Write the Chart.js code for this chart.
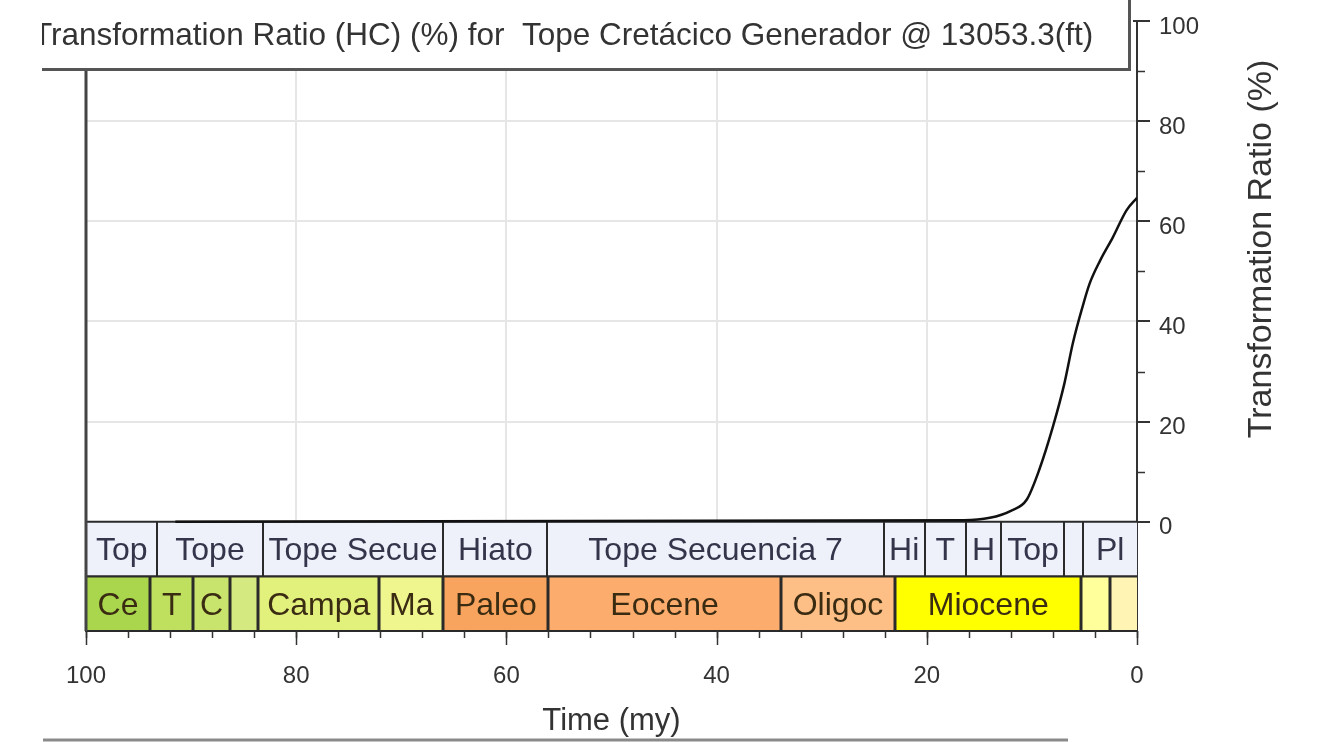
<!DOCTYPE html>
<html>
<head>
<meta charset="utf-8">
<script src="https://cdn.jsdelivr.net/npm/chart.js@4.4.1/dist/chart.umd.min.js"></script>
<style>
  html, body { margin: 0; padding: 0; background: #fff; }
  canvas { display: block; }
</style>
</head>
<body>
<canvas id="trChart" width="1327" height="742"></canvas>
<script>
// transformation ratio curve (time in my, ratio in %)
const curveTimes = [91.5, 16.5, 14.0, 12.0, 10.5, 9.3, 8.0, 6.9, 6.1, 5.2, 4.5, 3.5, 2.3, 1.0, 0];
const curveRatio = [0, 0.3, 0.8, 2.2, 4.4, 10.4, 19.0, 27.7, 35.7, 42.8, 47.6, 52.2, 56.8, 62.2, 64.7];

// sequence row (top band)
const seqEdges = [100, 93.2, 83.2, 66.0, 56.1, 24.1, 20.2, 16.3, 12.9, 6.9, 5.1, 0];
const seqLabels = ['Top', 'Tope', 'Tope Secue', 'Hiato', 'Tope Secuencia 7', 'Hi', 'T', 'H', 'Top', '', 'Pl'];

// epoch row (bottom band)
const epochEdges = [100, 93.9, 89.8, 86.3, 83.6, 72.1, 66.0, 56.0, 33.9, 23.0, 5.3, 2.6, 0];
const epochLabels = ['Ce', 'T', 'C', '', 'Campa', 'Ma', 'Paleo', 'Eocene', 'Oligoc', 'Miocene', '', ''];
const epochColors = ['#a9d64c', '#bfe05e', '#c9e46c', '#d4ea80', '#e2f07c', '#eff68e', '#f9a45e',
                     '#fcac6c', '#fdbf86', '#ffff00', '#ffff9c', '#fff4b4'];

const xTicks = [100, 80, 60, 40, 20, 0];
const yTicks = [0, 20, 40, 60, 80, 100];

const chartTitle = 'Transformation Ratio (HC) (%) for  Tope Cretácico Generador @ 13053.3(ft)';
const xTitle = 'Time (my)';
const yTitle = 'Transformation Ratio (%)';

const BAND = 10.9; // height of each band row in y units
const FONT = "'Liberation Sans', Arial, sans-serif";

const curvePoints = curveTimes.map((t, i) => ({ x: t, y: curveRatio[i] }));

const drawRow = (ctx, x, y, edges, labels, fills, top, bottom, lineW, textColor) => {
    const yt = y.getPixelForValue(top);
    const yb = y.getPixelForValue(bottom);
    ctx.font = `32px ${FONT}`;
    ctx.textAlign = 'center';
    ctx.textBaseline = 'middle';
    for (let i = 0; i < labels.length; i++) {
        const xl = x.getPixelForValue(edges[i]);
        const xr = x.getPixelForValue(edges[i + 1]);
        ctx.fillStyle = fills[i];
        ctx.fillRect(xl, yt, xr - xl, yb - yt);
        if (labels[i]) {
            ctx.fillStyle = textColor;
            ctx.fillText(labels[i], (xl + xr) / 2, (yt + yb) / 2 + 2);
        }
    }
    ctx.strokeStyle = '#2a2a2a';
    ctx.lineWidth = lineW;
    for (let i = 1; i < edges.length - 1; i++) {
        const xe = Math.round(x.getPixelForValue(edges[i]));
        ctx.beginPath();
        ctx.moveTo(xe, yt);
        ctx.lineTo(xe, yb);
        ctx.stroke();
    }
    ctx.lineWidth = 2;
    ctx.beginPath();
    ctx.moveTo(x.left, yt);
    ctx.lineTo(x.right, yt);
    ctx.moveTo(x.left, yb);
    ctx.lineTo(x.right, yb);
    ctx.stroke();
};

const bandsPlugin = {
    id: 'bands',
    beforeDatasetsDraw(chart) {
        const { ctx, scales: { x, y } } = chart;
        ctx.save();
        drawRow(ctx, x, y, seqEdges, seqLabels, seqLabels.map(() => '#eef0fa'), 0, -BAND, 2, '#34344a');
        drawRow(ctx, x, y, epochEdges, epochLabels, epochColors, -BAND, -2 * BAND, 3, '#3a2c12');
        ctx.restore();
    },
    afterDraw(chart) {
        const { ctx, chartArea, scales: { x, y } } = chart;
        ctx.save();
        ctx.strokeStyle = '#333';
        ctx.lineWidth = 1.5;

        // time axis ticks, minor every 4 my
        for (let t = 0; t <= 100; t += 4) {
            const px = Math.round(x.getPixelForValue(t)) + 0.5;
            ctx.beginPath();
            ctx.moveTo(px, chartArea.bottom);
            ctx.lineTo(px, chartArea.bottom + 7);
            ctx.stroke();
        }
        for (const t of xTicks) {
            const px = Math.round(x.getPixelForValue(t)) + 0.5;
            ctx.beginPath();
            ctx.moveTo(px, chartArea.bottom);
            ctx.lineTo(px, chartArea.bottom + 14);
            ctx.stroke();
        }

        // ratio axis ticks, minor every 10 %
        for (let v = 10; v < 100; v += 20) {
            const py = Math.round(y.getPixelForValue(v)) + 0.5;
            ctx.beginPath();
            ctx.moveTo(chartArea.right, py);
            ctx.lineTo(chartArea.right + 8, py);
            ctx.stroke();
        }
        ctx.lineWidth = 2;
        for (const v of yTicks) {
            const py = Math.round(y.getPixelForValue(v));
            ctx.beginPath();
            ctx.moveTo(chartArea.right - (v === 100 ? 4 : 0), py);
            ctx.lineTo(chartArea.right + 13, py);
            ctx.stroke();
        }

        // left frame line
        ctx.strokeStyle = '#444';
        ctx.lineWidth = 3;
        ctx.beginPath();
        ctx.moveTo(chartArea.left, 70);
        ctx.lineTo(chartArea.left, chartArea.bottom);
        ctx.stroke();

        // rotated axis title
        ctx.fillStyle = '#333';
        ctx.font = `34px ${FONT}`;
        ctx.textAlign = 'center';
        ctx.textBaseline = 'middle';
        ctx.translate(1262, 249);
        ctx.rotate(-Math.PI / 2);
        ctx.fillText(yTitle, 0, 0);
        ctx.setTransform(1, 0, 0, 1, 0, 0);

        // title box
        ctx.fillStyle = '#fff';
        ctx.fillRect(42, 0, 1088, 70);
        ctx.strokeStyle = '#555';
        ctx.lineWidth = 3;
        ctx.beginPath();
        ctx.moveTo(42, 69.5);
        ctx.lineTo(1129.5, 69.5);
        ctx.lineTo(1129.5, 0);
        ctx.stroke();
        ctx.save();
        ctx.beginPath();
        ctx.rect(42, 0, 1086, 68);
        ctx.clip();
        ctx.fillStyle = '#333';
        ctx.font = `31.5px ${FONT}`;
        ctx.textAlign = 'left';
        ctx.fillText(chartTitle, 33, 36);
        ctx.restore();

        // bottom rule
        ctx.strokeStyle = '#8a8a8a';
        ctx.lineWidth = 3;
        ctx.beginPath();
        ctx.moveTo(43, 740);
        ctx.lineTo(1068, 740);
        ctx.stroke();
        ctx.restore();
    }
};

const ctx = document.getElementById('trChart').getContext('2d');

const myChart = new Chart(ctx, {
    type: 'line',
    data: {
        datasets: [{
            data: curvePoints,
            borderColor: '#111',
            borderWidth: 2.5,
            pointRadius: 0,
            cubicInterpolationMode: 'monotone',
            fill: false
        }]
    },
    options: {
        responsive: false,
        animation: false,
        layout: { padding: { left: 86, top: 21, right: 0, bottom: 0 } },
        plugins: {
            legend: { display: false },
            title: { display: false },
            tooltip: { enabled: false }
        },
        scales: {
            x: {
                type: 'linear',
                reverse: true,
                min: 0,
                max: 100,
                afterBuildTicks: (scale) => { scale.ticks = xTicks.map(v => ({ value: v })); },
                afterFit: (scale) => {
                    scale.height = 111;
                    scale.paddingLeft = 0;
                    scale.paddingRight = 0;
                },
                grid: {
                    color: (c) => (c.tick && (c.tick.value === 0 || c.tick.value === 100)) ? 'rgba(0,0,0,0)' : '#e6e6e6',
                    lineWidth: 2,
                    drawTicks: false
                },
                border: { display: true, color: '#333', width: 2 },
                ticks: {
                    padding: 31,
                    color: '#333',
                    font: { family: FONT, size: 24 },
                    maxRotation: 0
                },
                title: {
                    display: true,
                    text: xTitle,
                    color: '#333',
                    font: { family: FONT, size: 31 },
                    padding: { top: 0, bottom: 2 }
                }
            },
            y: {
                type: 'linear',
                position: 'right',
                min: -2 * BAND,
                max: 100,
                afterBuildTicks: (scale) => { scale.ticks = yTicks.map(v => ({ value: v })); },
                afterFit: (scale) => {
                    scale.width = 190;
                    scale.paddingTop = 0;
                    scale.paddingBottom = 0;
                },
                grid: {
                    color: (c) => (c.tick && (c.tick.value === 0 || c.tick.value === 100)) ? 'rgba(0,0,0,0)' : '#e6e6e6',
                    lineWidth: 2,
                    drawTicks: false
                },
                border: { display: true, color: '#333', width: 2 },
                ticks: {
                    padding: 22,
                    labelOffset: 6,
                    color: '#333',
                    font: { family: FONT, size: 24 }
                }
            }
        }
    },
    plugins: [bandsPlugin]
});
</script>
</body>
</html>
